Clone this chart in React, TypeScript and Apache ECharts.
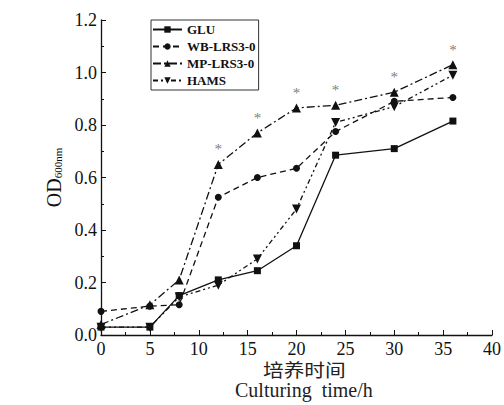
import React, { useEffect, useRef } from "react";
import * as echarts from "echarts";

const times = [0, 5, 8, 12, 16, 20, 24, 30, 36];
const glu = [0.03, 0.03, 0.15, 0.21, 0.245, 0.34, 0.685, 0.71, 0.815];
const wb = [0.09, 0.11, 0.115, 0.525, 0.6, 0.635, 0.775, 0.89, 0.905];
const mp = [0.04, 0.115, 0.21, 0.65, 0.77, 0.865, 0.875, 0.925, 1.03];
const hams = [0.03, 0.03, 0.145, 0.19, 0.29, 0.48, 0.81, 0.87, 0.99];
const starIdx = [3, 4, 5, 6, 7, 8];
const seriesNames = ["GLU", "WB-LRS3-0", "MP-LRS3-0", "HAMS"];

const serif = "Liberation Serif";

export default function App() {
  const ref = useRef<HTMLDivElement>(null);
  useEffect(() => {
    if (!ref.current) return;
    const chart = echarts.init(ref.current, null, { renderer: "svg" });
    const pair = (arr: number[]) => times.map((t, i) => [t, arr[i]]);
    const black = "#111";
    const mk = (name: string, arr: number[], symbol: string, type: any, rot = 0, size = 8) => ({
      name,
      type: "line",
      data: pair(arr),
      symbol,
      symbolSize: size,
      symbolRotate: rot,
      lineStyle: { color: black, width: 1.3, type },
      itemStyle: { color: black },
      z: 3,
    });
    const mpSeries: any = mk("MP-LRS3-0", mp, "triangle", [8, 3, 2, 3], 0, 9);
    mpSeries.data = times.map((t, i) =>
      starIdx.includes(i)
        ? {
            value: [t, mp[i]],
            label: {
              show: true,
              formatter: "*",
              position: "top",
              distance: 3,
              color: "#808080",
              fontFamily: serif,
              fontSize: 15,
            },
          }
        : { value: [t, mp[i]] }
    );
    mpSeries.labelLayout = { hideOverlap: false };
    chart.setOption({
      animation: false,
      backgroundColor: "#fff",
      grid: { left: 101, right: 11, top: 20, bottom: 70 },
      legend: {
        left: 151,
        top: 20,
        orient: "vertical",
        itemWidth: 29,
        itemHeight: 8,
        itemGap: 4,
        borderColor: "#333",
        borderWidth: 1,
        padding: [3, 3, 3, 1],
        textStyle: { fontFamily: serif, fontSize: 13, fontWeight: "bold", color: "#111" },
        data: seriesNames,
      },
      xAxis: {
        type: "value",
        min: 0,
        max: 40,
        interval: 5,
        axisLine: { lineStyle: { color: black, width: 1.3 } },
        axisTick: { inside: true, length: 5, lineStyle: { color: black } },
        minorTick: { show: true, splitNumber: 2, length: 3, lineStyle: { color: black } },
        splitLine: { show: false },
        axisLabel: {
          show: true,
          fontSize: 18,
          fontFamily: "Liberation Serif",
          color: "#111",
          margin: 5,
        },
      },
      yAxis: {
        type: "value",
        min: 0,
        max: 1.2,
        interval: 0.2,
        axisLine: { show: true, lineStyle: { color: black, width: 1.3 } },
        axisTick: { show: true, inside: true, length: 5, lineStyle: { color: black } },
        minorTick: { show: true, splitNumber: 2, length: 3, lineStyle: { color: black } },
        splitLine: { show: false },
        axisLabel: {
          show: true,
          fontSize: 18,
          fontFamily: "Liberation Serif",
          color: "#111",
          margin: 4,
          formatter: (v: number) => v.toFixed(1),
        },
        name: "{a|OD}{b|600nm}",
        nameLocation: "middle",
        nameRotate: 90,
        nameGap: 35,
        nameTextStyle: {
          rich: {
            a: { fontFamily: serif, fontSize: 20, color: "#111" },
            b: { fontFamily: serif, fontSize: 11, color: "#111", padding: [9, 0, 0, 0] },
          },
        },
      },
      series: [
        mk("GLU", glu, "rect", "solid", 0, 7),
        mk("WB-LRS3-0", wb, "circle", [6, 4], 0, 7),
        mpSeries,
        mk("HAMS", hams, "triangle", [5, 3, 2, 3, 2, 3], 180, 9),
      ],
      graphic: [
        {
          type: "text",
          x: 263,
          y: 361,
          scaleX: 1.15,
          style: {
            text: "培养时间",
            font: "18px Noto Sans CJK SC",
            fill: "#222",
          },
        },
        {
          type: "text",
          x: 235,
          y: 380,
          style: {
            text: "Culturing  time/h",
            font: "20px Liberation Serif",
            fill: "#222",
          },
        },
      ],
    });
    return () => chart.dispose();
  }, []);
  return (
    <div
      ref={ref}
      style={{ position: "fixed", left: 0, top: 0, width: 504, height: 405 }}
    />
  );
}
